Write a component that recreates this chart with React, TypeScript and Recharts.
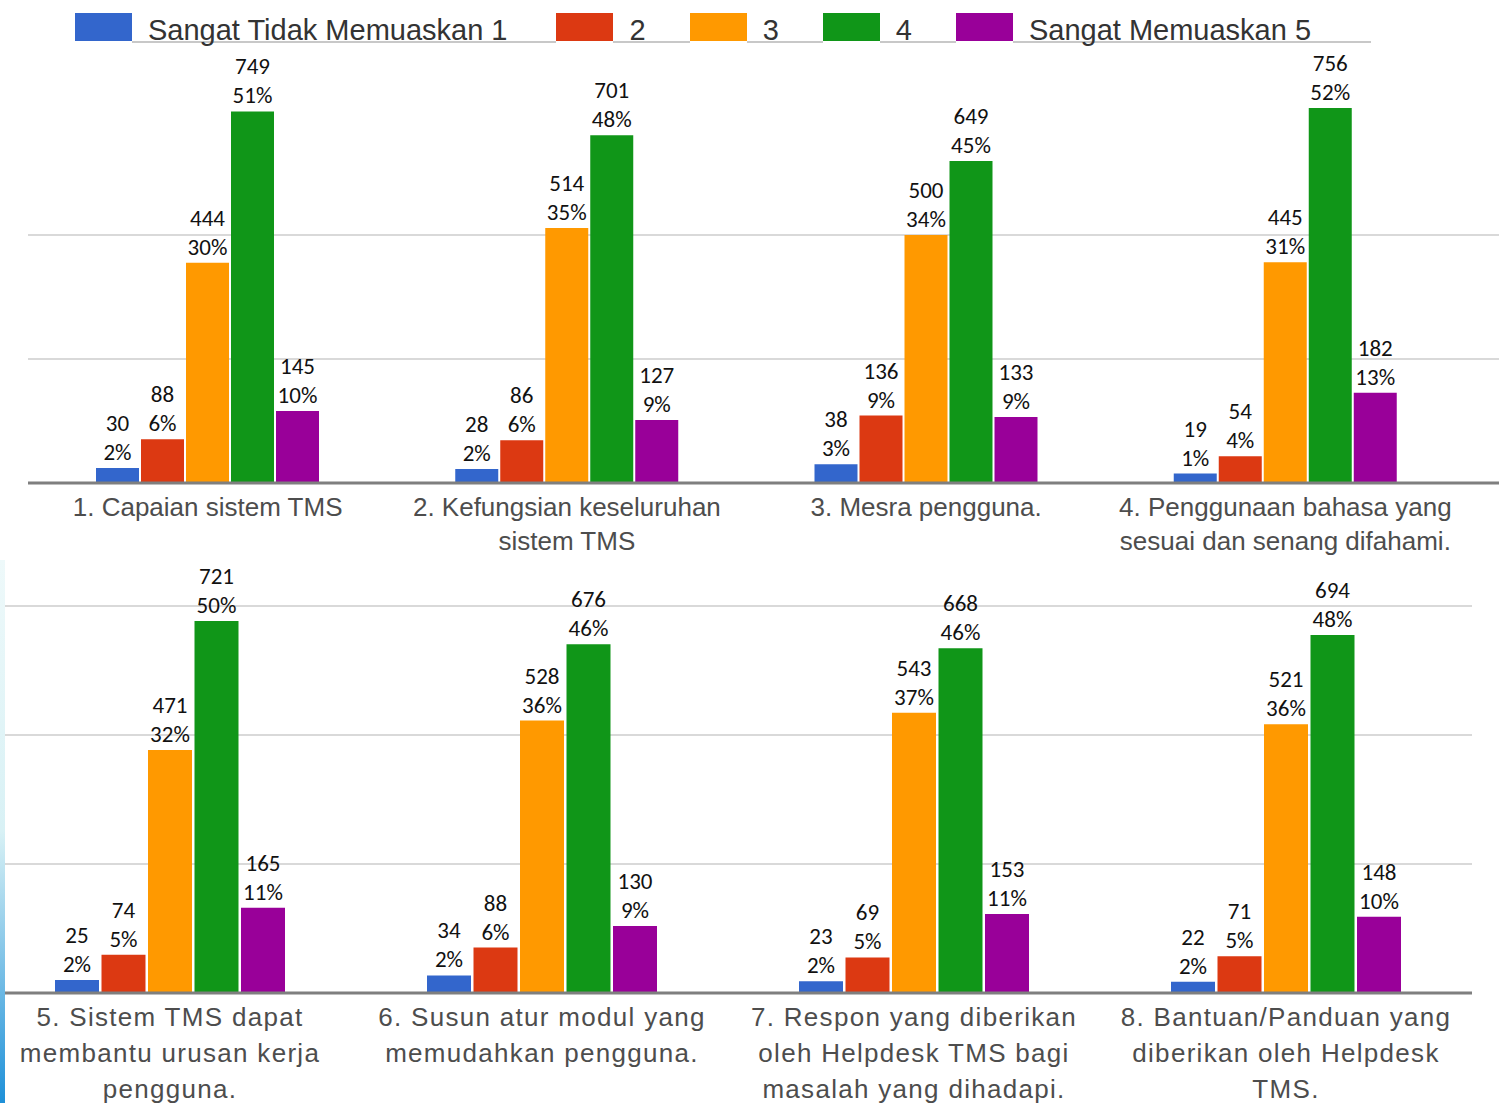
import * as React from "react";
import { Bar, BarChart, CartesianGrid, LabelList, XAxis, YAxis } from "recharts";

// Survey questions, split into the two panels as in the picture.
const TOP_QUESTIONS = [
  "1. Capaian sistem TMS",
  "2. Kefungsian keseluruhan\nsistem TMS",
  "3. Mesra pengguna.",
  "4. Penggunaan bahasa yang\nsesuai dan senang difahami.",
];
const BOTTOM_QUESTIONS = [
  "5. Sistem TMS dapat\nmembantu urusan kerja\npengguna.",
  "6. Susun atur modul yang\nmemudahkan pengguna.",
  "7. Respon yang diberikan\noleh Helpdesk TMS bagi\nmasalah yang dihadapi.",
  "8. Bantuan/Panduan yang\ndiberikan oleh Helpdesk\nTMS.",
];

const SERIES_NAMES = ["Sangat Tidak Memuaskan 1", "2", "3", "4", "Sangat Memuaskan 5"];
const SERIES_COLORS = ["#3366cc", "#dc3912", "#ff9900", "#109618", "#990099"];

// counts per rating (1..5), one entry per question
const TOP_COUNTS = [
  [30, 28, 38, 19],
  [88, 86, 136, 54],
  [444, 514, 500, 445],
  [749, 701, 649, 756],
  [145, 127, 133, 182],
];
const TOP_PERCENTS = [
  [2, 2, 3, 1],
  [6, 6, 9, 4],
  [30, 35, 34, 31],
  [51, 48, 45, 52],
  [10, 9, 9, 13],
];
const BOTTOM_COUNTS = [
  [25, 34, 23, 22],
  [74, 88, 69, 71],
  [471, 528, 543, 521],
  [721, 676, 668, 694],
  [165, 130, 153, 148],
];
const BOTTOM_PERCENTS = [
  [2, 2, 2, 2],
  [5, 6, 5, 5],
  [32, 36, 37, 36],
  [50, 46, 46, 48],
  [11, 9, 11, 10],
];

// gridlines above the baseline
const TOP_GRID = [250, 500];
const BOTTOM_GRID = [250, 500, 750];

function buildRows(questions: string[], counts: number[][], percents: number[][]) {
  return questions.map((name, qi) => {
    const row: Record<string, string | number> = { name };
    counts.forEach((series, si) => {
      row[`v${si}`] = series[qi];
      row[`lbl${si}`] = `${series[qi]}|${percents[si][qi]}%`;
    });
    return row;
  });
}

const topRows = buildRows(TOP_QUESTIONS, TOP_COUNTS, TOP_PERCENTS);
const bottomRows = buildRows(BOTTOM_QUESTIONS, BOTTOM_COUNTS, BOTTOM_PERCENTS);

const LABEL_FONT = "Carlito, Calibri, 'Noto Sans', sans-serif";
const TICK_FONT = "'Liberation Sans', Arial, sans-serif";

function ValueLabel(props: any) {
  const vb = props.viewBox ?? props;
  const [count, pct] = String(props.value).split("|");
  const cx = vb.x + vb.width / 2;
  const top = vb.y;
  return (
    <g>
      <text x={cx} y={top - 37} textAnchor="middle" fontSize={23} fontFamily={LABEL_FONT} fill="#111">
        {count}
      </text>
      <text x={cx} y={top - 8} textAnchor="middle" fontSize={23} fontFamily={LABEL_FONT} fill="#111">
        {pct}
      </text>
    </g>
  );
}

function makeTick(lineHeight: number, spacing: number) {
  return function QuestionTick(props: any) {
    const lines = String(props.payload?.value ?? "").split("\n");
    return (
      <text
        x={props.x}
        y={props.y}
        textAnchor="middle"
        fontSize={26}
        fontFamily={TICK_FONT}
        letterSpacing={spacing}
        fill="#4d4d4d"
      >
        {lines.map((l, i) => (
          <tspan key={i} x={props.x} y={props.y + 33 + i * lineHeight}>
            {l}
          </tspan>
        ))}
      </text>
    );
  };
}

const TopTick = makeTick(34, 0);
const BottomTick = makeTick(36, 1.3);

function Legend() {
  return (
    <div style={{ position: "absolute", left: 75, top: 13, display: "flex", fontFamily: TICK_FONT }}>
      {SERIES_NAMES.map((name, i) => (
        <div key={name} style={{ display: "flex" }}>
          <div style={{ width: 57, height: 28, background: SERIES_COLORS[i] }} />
          <div
            style={{
              height: 28,
              borderBottom: "2px solid #c8c8c8",
              paddingLeft: 16,
              paddingRight: i === SERIES_NAMES.length - 1 ? 60 : name.length > 2 ? 49 : 44,
              fontSize: 29,
              lineHeight: "34px",
              color: "#333",
              whiteSpace: "nowrap",
            }}
          >
            {name}
          </div>
        </div>
      ))}
    </div>
  );
}

function series() {
  return SERIES_COLORS.map((color, i) => (
    <Bar key={i} dataKey={`v${i}`} name={SERIES_NAMES[i]} fill={color} isAnimationActive={false}>
      <LabelList dataKey={`lbl${i}`} content={ValueLabel} />
    </Bar>
  ));
}

export default function App() {
  return (
    <div
      style={{
        position: "absolute",
        left: 0,
        top: 0,
        width: 1499,
        height: 1103,
        overflow: "hidden",
        background: "#fff",
      }}
    >
      <Legend />
      <div style={{ position: "absolute", left: 0, top: 0 }}>
        <BarChart
          width={1499}
          height={560}
          data={topRows}
          margin={{ top: 106, right: 0, left: 28, bottom: 7 }}
          barCategoryGap={68}
          barGap={2}
        >
          <CartesianGrid
            vertical={false}
            horizontalValues={TOP_GRID}
            stroke="#d9d9d9"
            strokeWidth={2}
          />
          <YAxis hide domain={[0, 760]} />
          <XAxis
            dataKey="name"
            height={70}
            padding={{ left: 0, right: 34 }}
            tickLine={false}
            tickSize={0}
            tickMargin={0}
            interval={0}
            axisLine={{ stroke: "#7f7f7f", strokeWidth: 3 }}
            tick={TopTick}
          />
          {series()}
        </BarChart>
      </div>
      <div style={{ position: "absolute", left: -16, top: 560 }}>
        <BarChart
          width={1488}
          height={543}
          data={bottomRows}
          margin={{ top: 46, right: 0, left: 0, bottom: 0 }}
          barCategoryGap={71}
          barGap={2.5}
        >
          <CartesianGrid
            vertical={false}
            horizontalValues={BOTTOM_GRID}
            stroke="#d9d9d9"
            strokeWidth={2}
          />
          <YAxis hide domain={[0, 750]} />
          <XAxis
            dataKey="name"
            height={110}
            tickLine={false}
            tickSize={0}
            tickMargin={0}
            interval={0}
            axisLine={{ stroke: "#7f7f7f", strokeWidth: 3 }}
            tick={BottomTick}
          />
          {series()}
        </BarChart>
      </div>
      <div
        style={{
          position: "absolute",
          left: 0,
          top: 560,
          width: 5,
          height: 543,
          background: "linear-gradient(#eef9fa, #d8f1f5 50%, #1e90d8)",
        }}
      />
    </div>
  );
}
